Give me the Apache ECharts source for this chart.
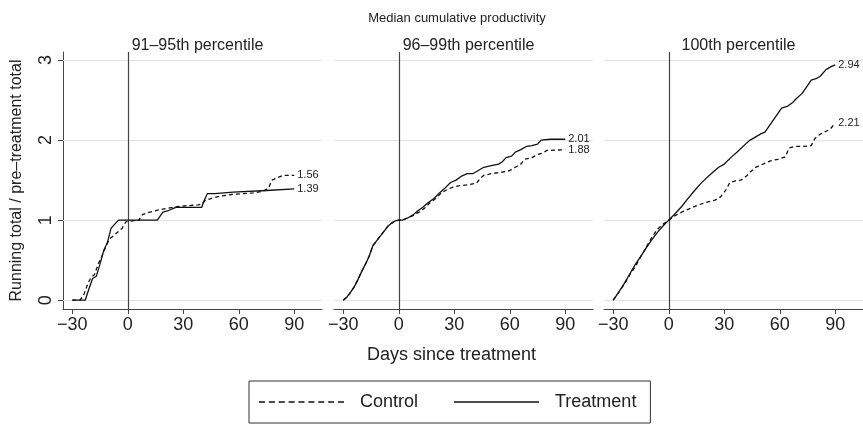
<!DOCTYPE html>
<html><head><meta charset="utf-8">
<script src="https://cdn.jsdelivr.net/npm/echarts@6/dist/echarts.min.js"></script>
<style>html,body{margin:0;padding:0;background:#fff}#c{width:863px;height:424px}</style>
</head><body><div id="c"></div>
<script>
const mainTitle = 'Median cumulative productivity';
const panelTitles = ['91–95th percentile', '96–99th percentile', '100th percentile'];
const xTicks = [-30, 0, 30, 60, 90];
const yTicks = [0, 1, 2, 3];
const gridValues = [0, 1, 2, 3];

// Panel 1: 91–95th percentile
const p1ControlDays = [-30,-26,-24,-22,-20,-18,-16,-14,-12,-10,-8,-6,-5,-3,-1,0,6,8,12,17,22,27,32,38,40,42,45,50,56,62,68,73,76,78,82,84,90];
const p1ControlVals = [0,0,0.05,0.18,0.28,0.32,0.45,0.55,0.66,0.76,0.8,0.84,0.86,0.9,0.98,1.0,1.0,1.07,1.1,1.13,1.15,1.17,1.18,1.19,1.2,1.25,1.27,1.3,1.32,1.33,1.34,1.36,1.4,1.5,1.54,1.56,1.56];
const p1TreatDays = [-30,-23,-21,-19,-17,-15,-13,-11,-9,-7,-5,0,16,19,22,26,40,41,43,47,48,57,58,75,76,90];
const p1TreatVals = [0,0,0.14,0.27,0.3,0.45,0.62,0.72,0.9,0.95,1.0,1.0,1.0,1.1,1.12,1.16,1.16,1.23,1.33,1.33,1.35,1.35,1.37,1.37,1.39,1.39];

// Panel 2: 96–99th percentile
const p2ControlDays = [-30,-28,-26,-24,-22,-20,-18,-16,-14,-12,-10,-8,-6,-4,-2,0,2,5,8,11,14,17,20,23,26,29,33,37,42,44,46,50,56,60,63,66,68,72,75,78,80,90];
const p2ControlVals = [0,0.04,0.1,0.17,0.26,0.36,0.45,0.55,0.68,0.74,0.8,0.86,0.92,0.96,0.99,1.0,1.0,1.03,1.06,1.1,1.15,1.22,1.27,1.34,1.38,1.41,1.43,1.44,1.46,1.52,1.56,1.58,1.6,1.62,1.66,1.7,1.76,1.78,1.82,1.84,1.87,1.88];
const p2TreatDays = [-30,-28,-26,-24,-22,-20,-18,-16,-14,-12,-10,-8,-6,-4,-2,0,2,5,8,10,13,16,19,22,25,28,31,34,37,40,43,46,50,54,56,58,61,63,66,69,72,75,77,82,90];
const p2TreatVals = [0,0.04,0.1,0.17,0.26,0.36,0.45,0.55,0.68,0.74,0.8,0.86,0.92,0.96,0.99,1.0,1.0,1.03,1.07,1.11,1.16,1.22,1.27,1.34,1.4,1.47,1.5,1.55,1.58,1.58,1.62,1.66,1.68,1.7,1.73,1.78,1.8,1.85,1.88,1.92,1.93,1.95,2.0,2.01,2.01];

// Panel 3: 100th percentile
const p3ControlDays = [-30,-27,-24,-21,-18,-15,-12,-9,-6,-3,0,3,7,11,16,20,25,28,31,33,36,39,42,44,47,50,55,59,63,65,68,72,77,79,81,84,87,90];
const p3ControlVals = [0,0.1,0.2,0.32,0.42,0.55,0.67,0.79,0.89,0.95,1.0,1.05,1.1,1.14,1.19,1.22,1.25,1.29,1.38,1.47,1.49,1.5,1.55,1.6,1.66,1.69,1.74,1.76,1.79,1.9,1.92,1.92,1.93,2.02,2.06,2.1,2.13,2.21];
const p3TreatDays = [-30,-27,-24,-21,-18,-15,-12,-9,-6,-3,0,3,7,10,14,17,21,24,27,30,34,37,41,44,47,50,52,55,58,61,64,67,69,72,75,77,80,82,85,88,90];
const p3TreatVals = [0,0.1,0.21,0.33,0.45,0.55,0.66,0.76,0.85,0.93,1.0,1.07,1.17,1.26,1.37,1.45,1.54,1.6,1.66,1.7,1.79,1.85,1.94,2.0,2.04,2.08,2.1,2.2,2.3,2.4,2.42,2.47,2.52,2.58,2.68,2.75,2.77,2.8,2.88,2.92,2.94];

const panels = [
  {cd: p1ControlDays, cv: p1ControlVals, td: p1TreatDays, tv: p1TreatVals},
  {cd: p2ControlDays, cv: p2ControlVals, td: p2TreatDays, tv: p2TreatVals},
  {cd: p3ControlDays, cv: p3ControlVals, td: p3TreatDays, tv: p3TreatVals}
];

const FONT = "'Liberation Sans', Arial, sans-serif";
const gridLefts = [63, 334, 604];
const GW = 259, GT = 52, GH = 257;
const pair = (d, v) => d.map((x, i) => [x, v[i]]);
const fmtX = v => v < 0 ? '\u2212' + Math.abs(v) : String(v);

// legend icons (line samples)
let dashPath = 'path://';
for (let k = 0; k < 9; k++) { const x0 = (k * 79 / 8).toFixed(2); dashPath += 'M' + x0 + ',0h6v1.5h-6Z'; }
const solidPath = 'path://M0,0h85v1.5h-85Z';

const grids = gridLefts.map(l => ({left: l, top: GT, width: GW, height: GH}));
const xAxes = gridLefts.map((l, i) => ({
  type: 'value', gridIndex: i, min: -35, max: 105,
  axisLine: {show: true, onZero: false, lineStyle: {color: '#444', width: 1}},
  axisTick: {show: true, customValues: xTicks, length: 5, lineStyle: {color: '#444'}},
  axisLabel: {customValues: xTicks, formatter: fmtX, fontSize: 18, color: '#222', fontFamily: FONT, margin: 7},
  splitLine: {show: false},
  name: i === 1 ? 'Days since treatment' : '',
  nameLocation: 'middle', nameGap: 37,
  nameTextStyle: {fontSize: 18, color: '#222', fontFamily: FONT, padding: [0, 24, 0, 0]}
}));
const yAxes = gridLefts.map((l, i) => ({
  type: 'value', gridIndex: i, min: -0.11, max: 3.1,
  axisLine: {show: i === 0, onZero: false, lineStyle: {color: '#444', width: 1}},
  axisTick: {show: i === 0, customValues: yTicks, length: 5, lineStyle: {color: '#444'}},
  axisLabel: {show: i === 0, customValues: yTicks, rotate: 90, fontSize: 18, color: '#222', fontFamily: FONT, margin: 8},
  splitLine: {show: false},
  name: i === 0 ? 'Running total / pre\u2013treatment total' : '',
  nameLocation: 'middle', nameGap: 38, nameRotate: 90,
  nameTextStyle: {fontSize: 16, color: '#222', fontFamily: FONT}
}));

const series = [];
panels.forEach((p, i) => {
  series.push({
    name: 'Control', type: 'line', xAxisIndex: i, yAxisIndex: i,
    data: pair(p.cd, p.cv), symbol: 'none', z: 3,
    lineStyle: {color: '#111', width: 1.3, type: [4, 3]},
    itemStyle: {color: '#111'},
    endLabel: {show: true, formatter: q => q.value[1].toFixed(2), fontSize: 11, color: '#222', fontFamily: FONT, distance: 3},
    markLine: {silent: true, symbol: 'none', label: {show: false}, z: 1,
      lineStyle: {color: '#e3e3e3', width: 1, type: 'solid'},
      data: gridValues.map(v => ({yAxis: v}))}
  });
  series.push({
    name: 'Treatment', type: 'line', xAxisIndex: i, yAxisIndex: i,
    data: pair(p.td, p.tv), symbol: 'none', z: 4,
    lineStyle: {color: '#111', width: 1.3, type: 'solid'},
    itemStyle: {color: '#111'},
    endLabel: {show: true, formatter: q => q.value[1].toFixed(2), fontSize: 11, color: '#222', fontFamily: FONT, distance: 3},
    markLine: {silent: true, symbol: 'none', label: {show: false}, z: 2,
      lineStyle: {color: '#444', width: 1.2, type: 'solid'},
      data: [{xAxis: 0}]}
  });
});

const titles = [{text: mainTitle, left: 452, top: 7, textAlign: 'center',
  textStyle: {fontSize: 13, fontWeight: 'normal', color: '#222', fontFamily: FONT}}];
panelTitles.forEach((t, i) => titles.push({text: t, left: gridLefts[i] + GW / 2, top: 33, textAlign: 'center',
  textStyle: {fontSize: 16, fontWeight: 'normal', color: '#222', fontFamily: FONT}}));

const chart = echarts.init(document.getElementById('c'), null, {renderer: 'canvas'});
chart.setOption({
  animation: false,
  backgroundColor: '#fff',
  title: titles,
  grid: grids, xAxis: xAxes, yAxis: yAxes, series: series,
  legend: {
    data: [{name: 'Control', icon: dashPath}, {name: 'Treatment', icon: solidPath}],
    left: 249, top: 381,
    itemWidth: 85, itemHeight: 1.5, itemGap: 36,
    itemStyle: {color: '#111', borderWidth: 0},
    lineStyle: {width: 0},
    borderColor: '#333', borderWidth: 1, borderRadius: 0,
    padding: [10, 14, 10, 10],
    textStyle: {fontSize: 18, color: '#222', fontFamily: FONT, padding: [0, 0, 0, 11], lineHeight: 22},
    selectedMode: false
  }
});
</script></body></html>
